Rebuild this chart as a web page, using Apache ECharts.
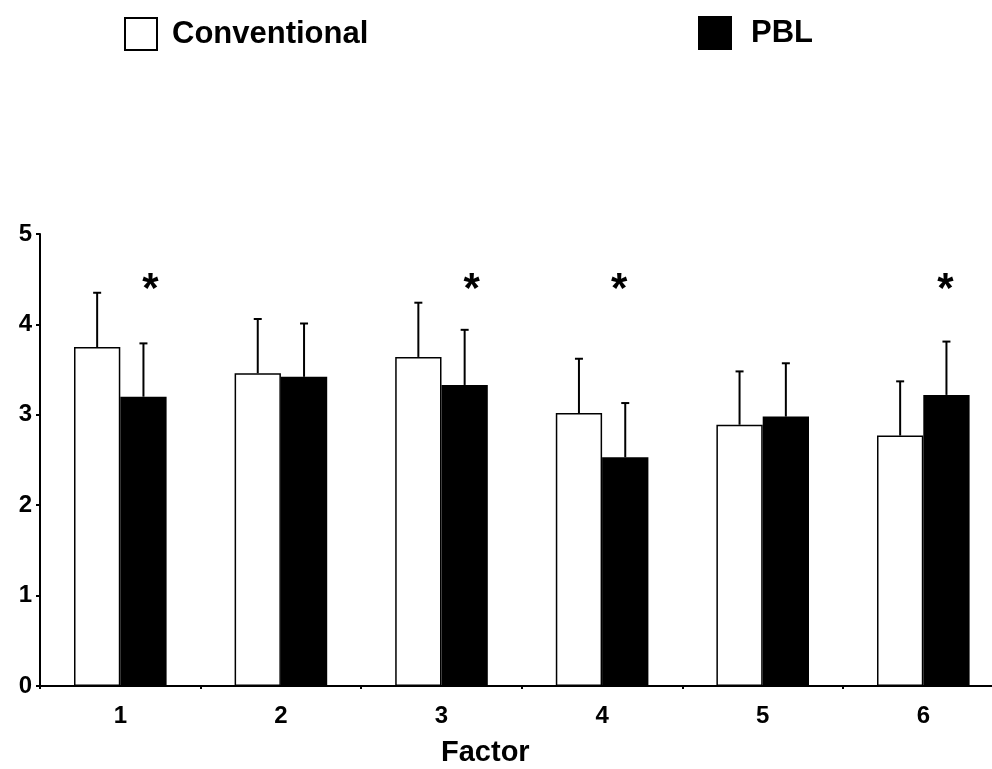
<!DOCTYPE html>
<html>
<head>
<meta charset="utf-8">
<script src="https://cdn.jsdelivr.net/npm/echarts@6/dist/echarts.min.js"></script>
<style>html,body{margin:0;padding:0;background:#fff;overflow:hidden;width:992px;height:769px}#c{width:1004px;height:769px}</style>
</head>
<body>
<div id="c"></div>
<script>
// ---- data ----
var categories = ['1', '2', '3', '4', '5', '6'];
var conventionalMean = [3.75, 3.46, 3.64, 3.02, 2.89, 2.77];
var conventionalSD   = [0.60, 0.60, 0.60, 0.60, 0.59, 0.60];
var pblMean = [3.20, 3.42, 3.33, 2.53, 2.98, 3.22];
var pblSD   = [0.59, 0.59, 0.61, 0.60, 0.59, 0.59];
var significant = [1, 0, 1, 1, 0, 1];
var yTicks = [0, 1, 2, 3, 4, 5];

// ---- styling constants ----
var BAR_W = 46.3;
var FONT = 'Liberation Sans, Arial, sans-serif';
var STAR_LEVEL = 4.46;
var STAR_DX = [7, 0, 7, -6, 0, -1];

var chart = echarts.init(document.getElementById('c'), null, {renderer: 'canvas'});

function errRender(side, sds) {
  return function (params, api) {
    var i = api.value(0), m = api.value(1), sd = sds[i];
    var b = api.coord([i, m]);
    var t = api.coord([i, m + sd]);
    var x = b[0] + side * BAR_W / 2;
    return {
      type: 'group',
      children: [
        {type: 'line', shape: {x1: x, y1: b[1], x2: x, y2: t[1]}, style: {stroke: '#000', lineWidth: 2}},
        {type: 'line', shape: {x1: x - 4, y1: t[1], x2: x + 4, y2: t[1]}, style: {stroke: '#000', lineWidth: 2}}
      ]
    };
  };
}

var option = {
  animation: false,
  backgroundColor: '#fff',
  legend: [
    {
      left: 124, top: 17, padding: 0, itemWidth: 32, itemHeight: 32, icon: 'rect',
      data: ['Conventional'], selectedMode: false,
      textStyle: {fontFamily: FONT, fontSize: 31, fontWeight: 'bold', color: '#000', padding: [0, 0, 0, 10]}
    },
    {
      left: 698, top: 16, padding: 0, itemWidth: 34, itemHeight: 34, icon: 'rect',
      data: ['PBL'], selectedMode: false,
      textStyle: {fontFamily: FONT, fontSize: 31, fontWeight: 'bold', color: '#000', padding: [0, 0, 0, 14]}
    }
  ],
  grid: {left: 40, top: 234, width: 963.6, height: 452, containLabel: false},
  xAxis: {
    type: 'category', data: categories,
    axisLine: {lineStyle: {color: '#000', width: 2}},
    axisTick: {show: true, length: 3, lineStyle: {color: '#000', width: 2}},
    axisLabel: {fontFamily: FONT, fontSize: 24, fontWeight: 'bold', color: '#000', margin: 18},
    splitLine: {show: false}
  },
  yAxis: {
    type: 'value', min: 0, max: 5, interval: 1,
    axisLine: {show: true, lineStyle: {color: '#000', width: 2}},
    axisTick: {show: true, length: 4, lineStyle: {color: '#000', width: 2}},
    axisLabel: {fontFamily: FONT, fontSize: 24, fontWeight: 'bold', color: '#000', margin: 8,
      formatter: function (v) { return yTicks.indexOf(v) >= 0 ? String(v) : ''; }},
    splitLine: {show: false}
  },
  graphic: [
    {type: 'text', left: 441, top: 738,
     style: {text: 'Factor', fontFamily: FONT, fontSize: 29, fontWeight: 'bold', fill: '#000'}}
  ],
  series: [
    {
      name: 'Conventional', type: 'bar', data: conventionalMean,
      barWidth: BAR_W, barGap: '0%',
      itemStyle: {color: '#fff', borderColor: '#000', borderWidth: 1.5}
    },
    {
      name: 'PBL', type: 'bar', data: pblMean,
      barWidth: BAR_W, barGap: '0%',
      itemStyle: {color: '#000', borderColor: '#000', borderWidth: 0}
    },
    {
      type: 'custom', z: 5, silent: true,
      data: conventionalMean.map(function (v, i) { return [i, v]; }),
      renderItem: errRender(-1, conventionalSD)
    },
    {
      type: 'custom', z: 5, silent: true,
      data: pblMean.map(function (v, i) { return [i, v]; }),
      renderItem: errRender(1, pblSD)
    },
    {
      type: 'custom', z: 6, silent: true,
      data: significant.map(function (s, i) { return [i, s]; }),
      renderItem: function (params, api) {
        var i = api.value(0);
        if (!api.value(1)) return null;
        var p = api.coord([i, STAR_LEVEL]);
        return {type: 'text', style: {text: '*', x: p[0] + BAR_W / 2 + STAR_DX[i], y: p[1] + 8,
          align: 'center', verticalAlign: 'middle', fontFamily: FONT, fontSize: 42, fontWeight: 'bold', fill: '#000'}};
      }
    }
  ]
};
chart.setOption(option);
</script>
</body>
</html>
